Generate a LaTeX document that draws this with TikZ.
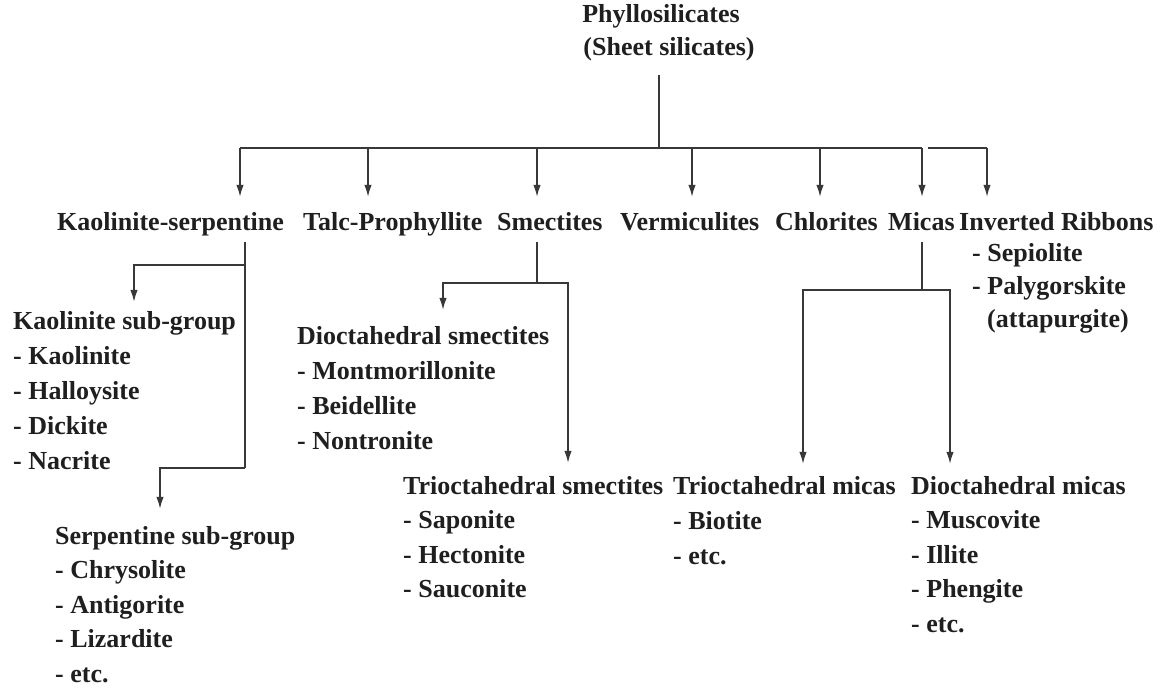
\documentclass[tikz,border=0pt]{standalone}
\usepackage{fontspec}
\setmainfont{Liberation Serif}
\usetikzlibrary{arrows.meta}

\begin{document}
\begin{tikzpicture}[x=1pt, y=-1pt,
		lbl/.style={font=\fontsize{26}{35}\selectfont\bfseries, text=black!88, inner sep=0pt,
			text height=18pt, text depth=6pt, anchor=base west},
		ttl/.style={lbl, anchor=base},
		conn/.style={line width=1.4pt, draw=black!78},
		arr/.style={conn, -{Latex[length=12pt, width=7.5pt]}}]
	\useasboundingbox (0,0) rectangle (1167,688);

	% root
	\node[ttl] (root) at (661, 22) {Phyllosilicates};
	\node[ttl] (root2) at (669, 55) {(Sheet silicates)};

	% groups
	\node[lbl] (kaoser) at (57, 230) {Kaolinite-serpentine};
	\node[lbl] (talc) at (303, 230) {Talc-Prophyllite};
	\node[lbl] (smec) at (497, 230) {Smectites};
	\node[lbl] (verm) at (620, 230) {Vermiculites};
	\node[lbl] (chlo) at (775, 230) {Chlorites};
	\node[lbl] (mica) at (888, 230) {Micas};
	\node[lbl] (invr) at (959, 230) {Inverted Ribbons};

	% bus
	\coordinate (bus) at (659, 148);
	\draw[conn] ([yshift=-14pt]root2.south -| bus) -- (bus);
	\foreach \x/\n in {240/kaoser, 368/talc, 537/smec, 692/verm, 820/chlo, 922/mica, 987/invr}{
		\coordinate (top-\n) at (\x, 148);
		\draw[arr, shorten >=15pt] (top-\n) -- (top-\n |- \n.north);
	}
	\draw[conn] (top-kaoser) -- (top-mica);
	\draw[conn] ([xshift=6pt]top-mica) -- (top-invr);

	% inverted ribbons
	\node[lbl] (sep) at (972, 261) {- Sepiolite};
	\node[lbl] (paly) at (972, 294) {- Palygorskite};
	\node[lbl] (atta) at (987, 327) {(attapurgite)};

	% kaolinite-serpentine
	\node[lbl] (kaosub) at (13, 329) {Kaolinite sub-group};
	\foreach \t [count=\i] in {Kaolinite, Halloysite, Dickite, Nacrite}
		\node[lbl] (kao-\i) at (13, 329+\i*35) {- \t};
	\node[lbl] (serpsub) at (55, 544) {Serpentine sub-group};
	\foreach \t [count=\i] in {Chrysolite, Antigorite, Lizardite, etc.}
		\node[lbl] (serp-\i) at (55, 544+\i*34.5) {- \t};

	\coordinate (kj1) at (245, 265);
	\coordinate (kj2) at (245, 468);
	\draw[conn] ([yshift=-6pt]kaoser.south -| kj1) -- (kj2);
	\draw[arr, shorten >=9pt] (kj1) -| (kaosub.north -| 134,0);
	\draw[arr, shorten >=17pt] (kj2) -| (serpsub.north -| 160,0);

	% smectites
	\node[lbl] (diosm) at (297, 344) {Dioctahedral smectites};
	\foreach \t [count=\i] in {Montmorillonite, Beidellite, Nontronite}
		\node[lbl] (diosm-\i) at (297, 344+\i*35) {- \t};
	\node[lbl] (triosm) at (403, 494) {Trioctahedral smectites};
	\foreach \t [count=\i] in {Saponite, Hectonite, Sauconite}
		\node[lbl] (triosm-\i) at (403, 494+\i*34.5) {- \t};

	\coordinate (sj) at (537, 283);
	\draw[conn] ([yshift=-6pt]smec.south -| sj) -- (sj);
	\draw[arr, shorten >=16pt] (sj) -| (diosm.north -| 443,0);
	\draw[arr, shorten >=13pt] (sj) -| (triosm.north -| 568,0);

	% micas
	\node[lbl] (triomi) at (673, 494) {Trioctahedral micas};
	\foreach \t [count=\i] in {Biotite, etc.}
		\node[lbl] (triomi-\i) at (673, 494+\i*35) {- \t};
	\node[lbl] (diomi) at (911, 494) {Dioctahedral micas};
	\foreach \t [count=\i] in {Muscovite, Illite, Phengite, etc.}
		\node[lbl] (diomi-\i) at (911, 494+\i*34.5) {- \t};

	\coordinate (mj) at (922, 290);
	\draw[conn] ([yshift=-6pt]mica.south -| mj) -- (mj);
	\draw[arr, shorten >=12pt] (mj) -| (triomi.north -| 803,0);
	\draw[arr, shorten >=12pt] (mj) -| (diomi.north -| 950,0);
\end{tikzpicture}
\end{document}
